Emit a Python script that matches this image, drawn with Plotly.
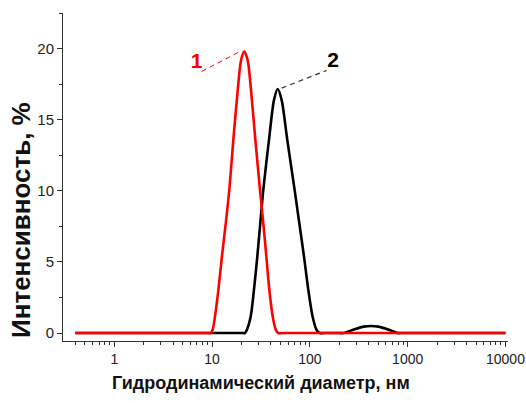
import plotly.graph_objects as go

# ---- data ----
red_size = [0.4, 9.0, 9.6, 10.1, 10.7, 11.6, 12.6, 13.8, 15.0, 16.5, 18.3, 19.8, 21.3,
            23.1, 25.0, 27.7, 30.9, 33.4, 35.9, 38.5, 41.7, 45.0, 47.5, 55.0, 10000]
red_int = [0, 0, 0, 0.2, 1.15, 3.03, 5.37, 7.72, 10.07, 13.6, 17.1, 19.2, 19.8,
           19.2, 17.1, 13.6, 10.07, 7.72, 5.37, 3.03, 1.15, 0.2, 0, 0, 0]

black_size = [0.4, 20.5, 21.7, 22.6, 24.8, 26.8, 29.0, 31.1, 33.4, 38.2, 43.0, 46.9,
              51.4, 58.7, 68.7, 78.0, 87.1, 96.4, 106.7, 117.5, 126.8, 140, 200, 219,
              282, 355, 422, 501, 631, 794, 850, 10000]
black_int = [0, 0, 0, 0.2, 1.15, 3.03, 5.37, 7.72, 10.07, 13.6, 16.4, 17.16,
             16.4, 13.6, 10.4, 7.72, 5.37, 3.03, 1.15, 0.2, 0, 0, 0, 0,
             0.25, 0.45, 0.5, 0.45, 0.25, 0, 0, 0]

x_tickvals = [1, 10, 100, 1000, 10000]
x_ticktext = ["1", "10", "100", "1000", "10000"]
x_minor = [0.4, 0.5, 0.6, 0.7, 0.8, 0.9,
           2, 3, 4, 5, 6, 7, 8, 9,
           20, 30, 40, 50, 60, 70, 80, 90,
           200, 300, 400, 500, 600, 700, 800, 900,
           2000, 3000, 4000, 5000, 6000, 7000, 8000, 9000]
y_tickvals = [0, 5, 10, 15, 20]

# leader lines and labels (data coords)
lead1_x = [7.83, 18.5]
lead1_y = [18.4, 19.74]
lead2_x = [51.5, 148.5]
lead2_y = [17.23, 18.47]
label_x = [6.96, 173]
label_y = [19.0, 19.08]
label_txt = ["1", "2"]
label_col = ["#ff0000", "#000000"]

FONT = "Arial, 'Liberation Sans', sans-serif"

fig = go.Figure()
fig.add_trace(go.Scatter(x=black_size, y=black_int, mode="lines",
                         line=dict(color="#000000", width=2.6, shape="spline", smoothing=0.8),
                         showlegend=False, hoverinfo="skip"))
fig.add_trace(go.Scatter(x=red_size, y=red_int, mode="lines",
                         line=dict(color="#ff0000", width=2.6, shape="spline", smoothing=0.8),
                         showlegend=False, hoverinfo="skip"))
fig.add_trace(go.Scatter(x=lead1_x, y=lead1_y, mode="lines",
                         line=dict(color="#ff0000", width=1, dash="5px,4px"),
                         showlegend=False, hoverinfo="skip"))
fig.add_trace(go.Scatter(x=lead2_x, y=lead2_y, mode="lines",
                         line=dict(color="#333333", width=1.2, dash="5px,4px"),
                         showlegend=False, hoverinfo="skip"))
for xv, yv, t, c in zip(label_x, label_y, label_txt, label_col):
    fig.add_trace(go.Scatter(x=[xv], y=[yv], mode="text", text=[f"<b>{t}</b>"],
                             textfont=dict(family=FONT, size=21, color=c),
                             textposition="middle center",
                             showlegend=False, hoverinfo="skip"))

fig.update_xaxes(type="log", range=[-0.5245, 4.026], automargin=False,
                 tickvals=x_tickvals, ticktext=x_ticktext,
                 ticks="outside", ticklen=5, tickwidth=1, tickcolor="#333",
                 showline=True, linecolor="#333", linewidth=1,
                 showgrid=False, zeroline=False,
                 tickfont=dict(family=FONT, size=14, color="#222"),
                 minor=dict(tickvals=x_minor, ticks="outside", ticklen=3, tickcolor="#333", showgrid=False))
fig.update_yaxes(range=[-0.56, 22.51], automargin=False,
                 tickvals=y_tickvals,
                 ticks="outside", ticklen=5, tickwidth=1, tickcolor="#333",
                 showline=True, linecolor="#333", linewidth=1,
                 showgrid=False, zeroline=False,
                 tickfont=dict(family=FONT, size=15, color="#222"),
                 minor=dict(dtick=2.5, ticks="outside", ticklen=3, tickcolor="#333", showgrid=False))

fig.add_annotation(text="<b>Гидродинамический диаметр, нм</b>", xref="paper", yref="paper",
                   x=0.445, y=-0.128, xanchor="center", yanchor="middle", showarrow=False,
                   font=dict(family=FONT, size=18, color="#111"))
fig.add_annotation(text="<b>Интенсивность, %</b>", xref="paper", yref="paper",
                   x=-0.0944, y=0.369, xanchor="center", yanchor="middle", showarrow=False,
                   textangle=-90, font=dict(family=FONT, size=26, color="#111"))

fig.update_layout(width=526, height=403, margin=dict(l=63, r=18, t=13, b=62),
                  plot_bgcolor="white", paper_bgcolor="white")

fig.write_html("out.html")
